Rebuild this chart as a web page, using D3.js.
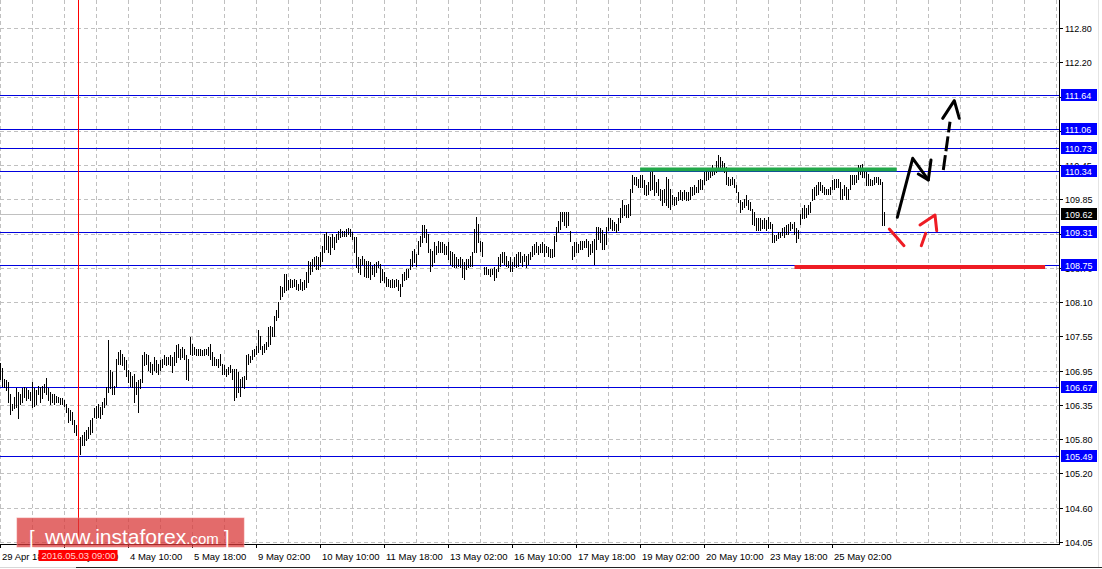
<!DOCTYPE html>
<html><head><meta charset="utf-8">
<script src="https://cdn.jsdelivr.net/npm/d3@7"></script>
<style>
html,body{margin:0;padding:0;background:#fff;overflow:hidden}
svg{display:block}
text{font-family:"Liberation Sans",Arial,sans-serif}
</style></head><body>
<svg id="c" width="1102" height="569"></svg>
<script>
// ---- DATA (USDJPY H1) ----
const highs = [
107.08,106.99,106.81,106.78,106.75,106.55,106.38,106.50,106.64,106.58,
106.55,106.64,106.67,106.64,106.61,106.58,106.75,106.64,106.61,106.69,
106.67,106.69,106.72,106.82,106.64,106.58,106.55,106.55,106.52,106.50,
106.47,106.47,106.44,106.38,106.30,106.27,106.24,106.10,106.01,105.84,
105.82,105.84,105.90,105.93,105.99,106.10,106.13,106.30,106.35,106.38,
106.33,106.41,106.47,106.67,107.46,106.95,106.92,106.69,107.15,107.26,
107.29,107.23,107.18,107.12,106.95,
106.92,106.86,106.89,106.75,106.78,
106.81,107.21,107.26,107.23,107.21,107.09,107.06,107.18,107.12,107.06,
107.12,107.15,107.21,107.18,107.18,107.21,107.18,107.26,107.38,107.40,
107.32,107.35,107.32,107.21,107.15,107.52,107.40,107.35,107.32,107.32,
107.32,107.29,107.32,107.32,107.35,107.40,107.26,107.18,107.15,107.15,
107.23,107.06,107.04,106.98,107.01,107.04,106.98,106.98,106.98,106.92,
106.81,106.84,106.86,107.21,
107.23,107.20,107.29,107.32,107.37,107.63,107.54,107.37,107.40,107.43,107.69,107.71,107.69,107.88,107.97,108.11,
108.39,108.37,108.59,108.59,108.48,108.51,108.48,108.51,108.48,108.42,
108.51,108.45,108.48,108.62,108.82,108.79,108.85,108.88,108.90,108.88,
108.96,109.07,109.27,109.30,109.24,109.22,109.27,109.22,109.27,109.33,
109.36,109.33,109.33,109.36,109.37,109.35,109.30,109.22,109.22,108.88,
108.85,108.90,108.85,108.82,108.82,108.79,108.73,108.76,108.79,108.82,
108.76,108.68,108.62,108.54,108.51,108.48,108.51,108.48,108.51,108.48,
108.42,108.59,108.62,108.68,108.68,108.85,108.99,109.02,108.93,109.16,
109.24,109.42,109.42,109.36,109.27,109.02,108.99,109.13,109.07,109.16,
109.13,109.13,109.10,109.07,109.13,108.99,108.96,108.93,108.88,108.85,
108.88,108.85,108.79,108.85,108.85,108.90,108.96,109.36,109.56,109.44,
109.16,109.13,108.71,108.71,108.68,108.68,108.68,108.71,108.68,108.88,
108.93,108.96,108.96,108.90,108.82,108.88,108.79,108.88,108.93,108.96,
108.96,108.90,108.93,108.90,108.93,108.96,109.07,109.10,109.13,109.07,
109.10,109.13,109.10,109.07,109.05,109.02,109.02,109.24,109.39,109.50,
109.64,109.64,109.64,109.64,109.64,109.33,109.07,109.13,109.13,109.10,
109.16,109.16,109.16,109.19,109.16,109.10,109.16,109.19,109.39,109.39,
109.37,109.34,109.28,109.39,109.54,109.54,109.51,109.48,109.45,109.54,
109.71,109.85,109.76,109.76,109.79,110.04,110.27,110.24,110.24,110.21,
110.27,110.27,110.19,110.10,110.16,110.33,110.36,110.27,110.16,110.21,
110.04,110.02,110.04,110.24,110.21,110.04,109.93,109.90,109.90,109.99,
110.02,109.99,110.02,109.99,109.99,110.07,110.07,110.10,110.07,110.19,
110.21,110.19,110.33,110.36,110.33,110.38,110.44,110.38,110.52,110.61,
110.58,110.52,110.49,110.41,110.24,110.21,110.24,110.21,110.10,109.99,
109.85,109.82,109.87,109.93,109.85,109.82,109.70,109.65,109.54,109.54,
109.54,109.51,109.54,109.51,109.56,109.48,109.45,109.25,109.25,109.31,
109.31,109.37,109.39,109.42,109.45,109.48,109.45,109.48,109.37,109.34,
109.62,109.71,109.76,109.71,109.76,109.82,110.04,110.07,110.10,110.16,
110.16,110.10,110.07,110.04,110.04,110.07,110.19,110.21,110.21,110.21,
110.16,110.04,110.10,110.07,110.04,110.27,110.27,110.27,110.27,110.44,
110.44,110.47,110.38,110.33,110.30,110.21,110.19,110.24,110.24,110.24,
110.21,110.16,109.65
];
const lows = [
106.81,106.69,106.67,106.61,106.41,106.21,106.27,106.30,106.33,106.13,
106.38,106.41,106.50,106.44,106.47,106.44,106.33,106.35,106.38,106.55,
106.41,106.47,106.58,106.55,106.44,106.38,106.41,106.38,106.41,106.41,
106.38,106.38,106.35,106.24,106.07,106.10,106.04,105.90,105.84,105.59,
105.53,105.67,105.67,105.76,105.79,105.87,105.90,106.16,106.13,106.16,
106.13,106.21,106.33,106.38,106.58,106.64,106.55,106.55,106.69,107.06,
107.06,107.04,106.98,106.86,106.75,
106.69,106.67,106.41,106.55,106.24,
106.64,106.75,107.04,107.06,106.95,106.92,106.89,106.95,106.92,106.89,
106.95,107.01,107.06,107.04,107.06,107.04,106.92,107.04,107.09,107.18,
107.15,107.18,107.15,106.81,106.78,107.23,107.21,107.23,107.21,107.21,
107.21,107.21,107.21,107.23,107.21,107.15,107.04,107.04,107.04,107.01,
107.04,106.89,106.89,106.86,106.89,106.92,106.81,106.44,106.50,106.58,
106.52,106.67,106.64,106.81,
107.06,107.09,107.15,107.20,107.23,107.26,107.32,107.23,107.26,107.32,107.37,107.40,107.54,107.54,107.80,107.86,
108.17,108.22,108.28,108.31,108.34,108.37,108.37,108.39,108.34,108.31,
108.34,108.31,108.34,108.37,108.45,108.59,108.65,108.73,108.68,108.68,
108.73,108.82,108.96,109.02,108.96,108.93,109.05,109.02,109.13,109.19,
109.22,109.24,109.24,109.24,109.27,109.24,109.19,108.96,108.71,108.62,
108.59,108.76,108.56,108.54,108.54,108.51,108.59,108.56,108.62,108.71,
108.45,108.48,108.45,108.39,108.39,108.37,108.37,108.37,108.39,108.31,
108.22,108.39,108.48,108.51,108.54,108.68,108.73,108.79,108.73,108.93,
109.07,109.13,109.22,109.13,108.96,108.65,108.73,108.79,108.93,108.96,
108.96,108.96,108.93,108.93,108.85,108.76,108.73,108.71,108.71,108.73,
108.71,108.54,108.51,108.68,108.71,108.73,108.73,108.96,108.96,109.13,
108.99,108.90,108.59,108.59,108.59,108.56,108.59,108.48,108.54,108.65,
108.73,108.79,108.76,108.73,108.71,108.65,108.65,108.73,108.71,108.73,
108.79,108.73,108.82,108.71,108.76,108.85,108.90,108.93,108.96,108.93,
108.96,108.96,108.90,108.96,108.90,108.88,108.88,108.90,109.16,109.30,
109.36,109.50,109.42,109.39,109.42,109.16,108.85,108.90,108.96,108.96,
109.02,109.02,109.05,109.05,108.90,108.93,108.96,108.76,109.02,109.19,
109.14,109.02,109.02,109.11,109.34,109.37,109.34,109.34,109.31,109.34,
109.48,109.56,109.59,109.56,109.56,109.59,109.99,110.13,110.10,110.07,
110.07,110.07,109.96,109.93,109.96,110.02,110.04,109.93,109.99,109.93,
109.85,109.76,109.82,109.76,109.73,109.70,109.79,109.76,109.79,109.85,
109.87,109.85,109.87,109.85,109.85,109.87,109.93,109.96,109.99,109.99,
110.04,110.04,110.13,110.19,110.21,110.24,110.27,110.30,110.33,110.38,
110.41,110.41,110.33,110.13,110.10,110.10,110.13,110.07,109.99,109.82,
109.65,109.70,109.73,109.76,109.70,109.68,109.45,109.42,109.34,109.34,
109.34,109.37,109.37,109.34,109.37,109.37,109.14,109.14,109.17,109.20,
109.22,109.25,109.22,109.28,109.28,109.34,109.37,109.28,109.14,109.20,
109.45,109.54,109.54,109.56,109.62,109.65,109.85,109.87,109.93,109.96,
110.02,109.99,109.96,109.96,109.96,109.96,110.04,110.04,110.07,110.07,
109.87,109.87,109.93,109.87,109.87,110.04,110.13,110.13,110.16,110.21,
110.30,110.24,110.24,110.10,110.10,110.10,110.10,110.13,110.16,110.13,
110.13,109.42,109.42
];
const xLabels = ["29 Apr 18:00","3 May 02:00","4 May 10:00","5 May 18:00","9 May 02:00","10 May 10:00",
  "11 May 18:00","13 May 02:00","16 May 10:00","17 May 18:00","19 May 02:00","20 May 10:00","23 May 18:00","25 May 02:00"];
const xLabelBars = [0,32,64,96,128,160,192,224,256,288,320,352,384,416];
const yTickValues = [112.781,112.197,111.614,111.030,110.446,109.862,109.278,108.695,108.111,107.527,106.943,106.360,105.776,105.192,104.608,104.025];
const yTickLabels = ["112.80","112.20","111.60","111.05","110.45","109.85","109.30","108.70","108.10","107.55","106.95","106.35","105.80","105.20","104.60","104.05"];
const levels = [111.64,111.06,110.73,110.34,109.31,108.75,106.67,105.49];
const levelLabels = ["111.64","111.06","110.73","110.34","109.31","108.75","106.67","105.49"];
const lastPrice = 109.62, lastPriceLabel = "109.62";
const cursorBar = 39, cursorLabel = "2016.05.03 09:00";
// hand-drawn annotations: [bar index, price]
const resistanceLine = [[319.8,110.37],[448.1,110.37]];
const supportLine = [[397,108.71],[522.3,108.71]];
const bullArrow = [[448.4,109.556],[456.1,110.562],[463.9,110.192]];
const bullArrowHead = [[458.9,110.294],[463.9,110.192],[465.25,110.533]];
const targetArrow = [[471.4,110.362],[474.75,111.185]];
const targetArrowHead = [[471.1,111.243],[476.9,111.543],[479.4,111.243]];
const bearStroke1 = [[444.4,109.357],[451.75,109.073]];
const bearStroke2 = [[460.4,109.073],[462.6,109.284]];
const bearStroke3 = [[459.75,109.425],[467.25,109.596],[468.1,109.328]];

// ---- DRAW ----
const svg = d3.select("#c");
const plotR = 1059, plotB = 544;
const x = d3.scaleLinear().domain([0,529]).range([0.5,1058.5]);
const y = d3.scaleLinear().domain([105.49,111.64]).range([456,95]);
const yc = v => Math.round(y(v)) + 0.5;

svg.append("rect").attr("width",1102).attr("height",569).attr("fill","#fff");

// grid
const grid = svg.append("g").attr("stroke","#c0c0c0").attr("stroke-dasharray","4,3").attr("shape-rendering","crispEdges");
grid.selectAll("line.h").data(yTickValues).join("line").attr("class","h")
  .attr("x1",0).attr("x2",plotR).attr("y1",d=>yc(d)).attr("y2",d=>yc(d));
grid.selectAll("line.v").data(d3.range(0,529,16)).join("line").attr("class","v")
  .attr("x1",d=>x(d)).attr("x2",d=>x(d)).attr("y1",0).attr("y2",plotB);

// levels
svg.append("g").attr("stroke","#0000dd").attr("shape-rendering","crispEdges")
  .selectAll("line").data(levels).join("line")
  .attr("x1",0).attr("x2",plotR).attr("y1",d=>yc(d)).attr("y2",d=>yc(d));
svg.append("line").attr("x1",0).attr("x2",plotR).attr("y1",yc(lastPrice)).attr("y2",yc(lastPrice))
  .attr("stroke","#c0c0c0").attr("shape-rendering","crispEdges");

// bars
svg.append("g").attr("fill","#000").attr("shape-rendering","crispEdges")
  .selectAll("rect").data(highs).join("rect")
  .attr("x",(d,i)=>x(i)-0.5).attr("width",1)
  .attr("y",d=>Math.round(y(d)))
  .attr("height",(d,i)=>Math.max(1,Math.round(y(lows[i]))-Math.round(y(d))+1));

// cursor line
svg.append("line").attr("x1",x(cursorBar)).attr("x2",x(cursorBar)).attr("y1",0).attr("y2",plotB)
  .attr("stroke","#ff0000").attr("shape-rendering","crispEdges");

// annotations
const ln = d3.line().x(d=>x(d[0])).y(d=>y(d[1]));
svg.append("path").attr("d",ln(resistanceLine)).attr("stroke","#22a84a").attr("stroke-width",4).attr("fill","none");
svg.append("path").attr("d",ln(supportLine)).attr("stroke","#ee1c24").attr("stroke-width",4).attr("fill","none");
const blk = [bullArrow,bullArrowHead,targetArrowHead];
blk.forEach(p=>svg.append("path").attr("d",ln(p)).attr("stroke","#000").attr("stroke-width",3)
  .attr("fill","none").attr("stroke-linecap","round").attr("stroke-linejoin","round"));
svg.append("path").attr("d",ln(targetArrow)).attr("stroke","#000").attr("stroke-width",3)
  .attr("fill","none").attr("stroke-dasharray","15,4");
[bearStroke1,bearStroke2,bearStroke3].forEach(p=>svg.append("path").attr("d",ln(p)).attr("stroke","#ee1c24")
  .attr("stroke-width",3).attr("fill","none").attr("stroke-linecap","round").attr("stroke-linejoin","round"));

// axes
svg.append("line").attr("x1",plotR+0.5).attr("x2",plotR+0.5).attr("y1",0).attr("y2",plotB+0.5).attr("stroke","#000").attr("shape-rendering","crispEdges");
svg.append("line").attr("x1",0).attr("x2",plotR+0.5).attr("y1",plotB+0.5).attr("y2",plotB+0.5).attr("stroke","#000").attr("shape-rendering","crispEdges");
const ya = svg.append("g");
ya.selectAll("line").data(yTickValues).join("line").attr("x1",plotR).attr("x2",plotR+4)
  .attr("y1",d=>yc(d)).attr("y2",d=>yc(d)).attr("stroke","#000").attr("shape-rendering","crispEdges");
ya.selectAll("text").data(yTickValues).join("text").attr("x",plotR+6).attr("y",d=>yc(d)+3.5)
  .attr("font-size","9px").attr("fill","#000").text((d,i)=>yTickLabels[i]);
const xa = svg.append("g");
xa.selectAll("line").data(xLabelBars).join("line").attr("x1",d=>x(d)).attr("x2",d=>x(d))
  .attr("y1",plotB).attr("y2",plotB+4).attr("stroke","#000").attr("shape-rendering","crispEdges");
xa.selectAll("text").data(xLabelBars).join("text").attr("x",d=>x(d)+1.5).attr("y",560)
  .attr("font-size","9.5px").attr("fill","#000").text((d,i)=>xLabels[i]);

// price boxes
const lb = svg.append("g");
levels.forEach((v,i)=>{
  const cy = Math.round(y(v));
  lb.append("rect").attr("x",1061).attr("y",cy-6).attr("width",36).attr("height",12).attr("fill","#0000ff");
  lb.append("text").attr("x",1065).attr("y",cy+3.5).attr("font-size","9px").attr("fill","#fff").text(levelLabels[i]);
});
{
  const cy = Math.round(y(lastPrice));
  lb.append("rect").attr("x",1061).attr("y",cy-6).attr("width",36).attr("height",12).attr("fill","#000");
  lb.append("text").attr("x",1065).attr("y",cy+3.5).attr("font-size","9px").attr("fill","#fff").text(lastPriceLabel);
}
// cursor label
svg.append("rect").attr("x",x(cursorBar)-40).attr("y",550).attr("width",79).attr("height",11).attr("fill","#ff0000");
svg.append("text").attr("x",x(cursorBar)).attr("y",559).attr("text-anchor","middle").attr("font-size","9.5px")
  .attr("fill","#ffd0d0").text(cursorLabel);

// logo
const logo = svg.append("g");
logo.append("rect").attr("x",17).attr("y",518).attr("width",227).attr("height",29)
  .attr("fill","#d93a3a").attr("fill-opacity",0.75).attr("stroke","#e88").attr("stroke-opacity",0.6);
logo.append("text").attr("x",29).attr("y",545).attr("font-size","20px").attr("fill","#fff").text("[");
logo.append("text").attr("x",224).attr("y",545).attr("font-size","20px").attr("fill","#fff").text("]");
const lt = logo.append("text").attr("x",45).attr("y",544).attr("fill","#fff");
lt.append("tspan").attr("font-size","21px").text("www.instaforex");
lt.append("tspan").attr("font-size","15px").text(".com");

// window frame
svg.append("line").attr("x1",0).attr("x2",76).attr("y1",567.5).attr("y2",567.5).attr("stroke","#d8d8d8");
svg.append("line").attr("x1",76).attr("x2",1102).attr("y1",567.5).attr("y2",567.5).attr("stroke","#222");
svg.append("line").attr("x1",1098.5).attr("x2",1098.5).attr("y1",0).attr("y2",567).attr("stroke","#e4e4e4");
</script>
</body></html>
